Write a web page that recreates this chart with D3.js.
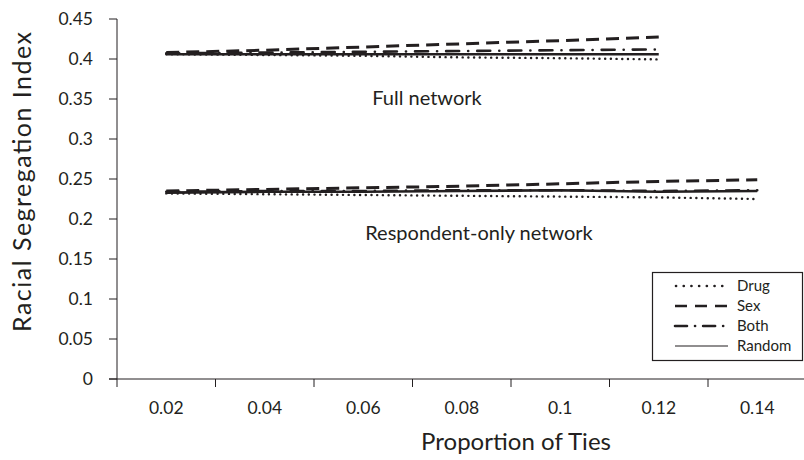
<!DOCTYPE html>
<html>
<head>
<meta charset="utf-8">
<script src="https://cdn.jsdelivr.net/npm/d3@7"></script>
<style>
  body { margin: 0; background: #fff; }
  text { font-family: Lato, "Noto Sans", sans-serif; fill: #231f20; }
</style>
</head>
<body>
<div id="chart"></div>
<script>
const width = 804;
const height = 460;

// categories on the x axis
const ties = ["0.02", "0.04", "0.06", "0.08", "0.1", "0.12", "0.14"];
const yTicks = [0, 0.05, 0.1, 0.15, 0.2, 0.25, 0.3, 0.35, 0.4, 0.45];

// full network (0.02 - 0.12)
const fullDrug   = [0.406, 0.405, 0.404, 0.402, 0.401, 0.3995];
const fullSex    = [0.408, 0.411, 0.415, 0.419, 0.423, 0.4275];
const fullBoth   = [0.407, 0.408, 0.409, 0.410, 0.411, 0.412];
const fullRandom = [0.406, 0.406, 0.406, 0.406, 0.406, 0.406];

// respondent-only network (0.02 - 0.14)
const respDrug   = [0.232, 0.231, 0.230, 0.229, 0.228, 0.227, 0.225];
const respSex    = [0.235, 0.237, 0.239, 0.241, 0.244, 0.247, 0.249];
const respBoth   = [0.234, 0.235, 0.235, 0.236, 0.236, 0.235, 0.236];
const respRandom = [0.233, 0.234, 0.234, 0.235, 0.236, 0.234, 0.235];

const legendNames = ["Drug", "Sex", "Both", "Random"];

const styles = {
    Drug:   { dash: "0.1,5.6", width: 2.4, cap: "round" },
    Sex:    { dash: "13,7", width: 3, cap: "butt" },
    Both:   { dash: "13,9,0.1,9", width: 2.6, cap: "round" },
    Random: { dash: null, width: 2.6, cap: "butt" }
};

const svg = d3.select("#chart")
    .append("svg")
    .attr("width", width)
    .attr("height", height);

// boundaries between categories, Excel style
const x = d3.scaleLinear().domain([0, ties.length]).range([117, 117 + 98.5 * ties.length]);
const y = d3.scaleLinear().domain([0, 0.45]).range([379, 19]);

const ink = "#231f20";

// y axis
svg.append("line")
    .attr("x1", x(0)).attr("x2", x(0))
    .attr("y1", y(0.45)).attr("y2", y(0))
    .attr("stroke", ink).attr("stroke-width", 1);

svg.selectAll(".ytick")
    .data(yTicks)
    .enter()
    .append("line")
    .attr("x1", x(0) - 8).attr("x2", x(0))
    .attr("y1", d => y(d)).attr("y2", d => y(d))
    .attr("stroke", ink).attr("stroke-width", 1);

svg.selectAll(".ylab")
    .data(yTicks)
    .enter()
    .append("text")
    .attr("x", 93)
    .attr("y", d => y(d))
    .attr("dy", "0.35em")
    .attr("text-anchor", "end")
    .attr("font-size", 17.5)
    .text(d => d === 0 ? "0" : String(+d.toFixed(2)));

// x axis
svg.append("line")
    .attr("x1", x(0) - 8).attr("x2", width)
    .attr("y1", y(0)).attr("y2", y(0))
    .attr("stroke", ink).attr("stroke-width", 1);

svg.selectAll(".xtick")
    .data(d3.range(ties.length + 1))
    .enter()
    .append("line")
    .attr("x1", d => x(d)).attr("x2", d => x(d))
    .attr("y1", y(0)).attr("y2", y(0) + 8)
    .attr("stroke", ink).attr("stroke-width", 1);

svg.selectAll(".xlab")
    .data(ties)
    .enter()
    .append("text")
    .attr("x", (d, i) => x(i + 0.5))
    .attr("y", 414)
    .attr("text-anchor", "middle")
    .attr("font-size", 17.5)
    .text(d => d);

// axis titles
svg.append("text")
    .attr("x", 516)
    .attr("y", 450)
    .attr("text-anchor", "middle")
    .attr("font-size", 24)
    .attr("textLength", 190)
    .text("Proportion of Ties");

svg.append("text")
    .attr("transform", "translate(31,182) rotate(-90)")
    .attr("text-anchor", "middle")
    .attr("font-size", 25)
    .attr("textLength", 300)
    .text("Racial Segregation Index");

// series lines
const line = d3.line()
    .x((d, i) => x(i + 0.5))
    .y(d => y(d));

const series = [
    { name: "Drug", values: fullDrug },
    { name: "Sex", values: fullSex },
    { name: "Both", values: fullBoth },
    { name: "Random", values: fullRandom },
    { name: "Drug", values: respDrug },
    { name: "Sex", values: respSex },
    { name: "Both", values: respBoth },
    { name: "Random", values: respRandom }
];

svg.append("g")
    .selectAll("path")
    .data(series)
    .enter()
    .append("path")
    .attr("d", d => line(d.values))
    .attr("fill", "none")
    .attr("stroke", ink)
    .attr("stroke-width", d => styles[d.name].width)
    .attr("stroke-linecap", d => styles[d.name].cap)
    .attr("stroke-dasharray", d => styles[d.name].dash);

// annotations
svg.append("text")
    .attr("x", 427).attr("y", 105)
    .attr("text-anchor", "middle")
    .attr("font-size", 20)
    .text("Full network");

svg.append("text")
    .attr("x", 479).attr("y", 240)
    .attr("text-anchor", "middle")
    .attr("font-size", 20)
    .text("Respondent-only network");

// legend
const legend = svg.append("g");
legend.append("rect")
    .attr("x", 652.5).attr("y", 272.5)
    .attr("width", 150).attr("height", 88)
    .attr("fill", "#fff")
    .attr("stroke", ink).attr("stroke-width", 1.2);

const legendDash = {
    Drug: "0.1,7.6",
    Sex: "12,8",
    Both: "12,8,0.1,8",
    Random: null
};

const row = legend.selectAll(".row")
    .data(legendNames)
    .enter()
    .append("g")
    .attr("transform", (d, i) => `translate(0,${286 + i * 20})`);

row.append("line")
    .attr("x1", d => d === "Drug" ? 676 : 675)
    .attr("x2", 728)
    .attr("y1", 0).attr("y2", 0)
    .attr("stroke", ink)
    .attr("stroke-width", d => d === "Random" ? 1.2 : 2.6)
    .attr("stroke-linecap", d => styles[d].cap)
    .attr("stroke-dasharray", d => legendDash[d]);

row.append("text")
    .attr("x", 737)
    .attr("y", 0)
    .attr("dy", "0.35em")
    .attr("font-size", 15)
    .text(d => d);
</script>
</body>
</html>
